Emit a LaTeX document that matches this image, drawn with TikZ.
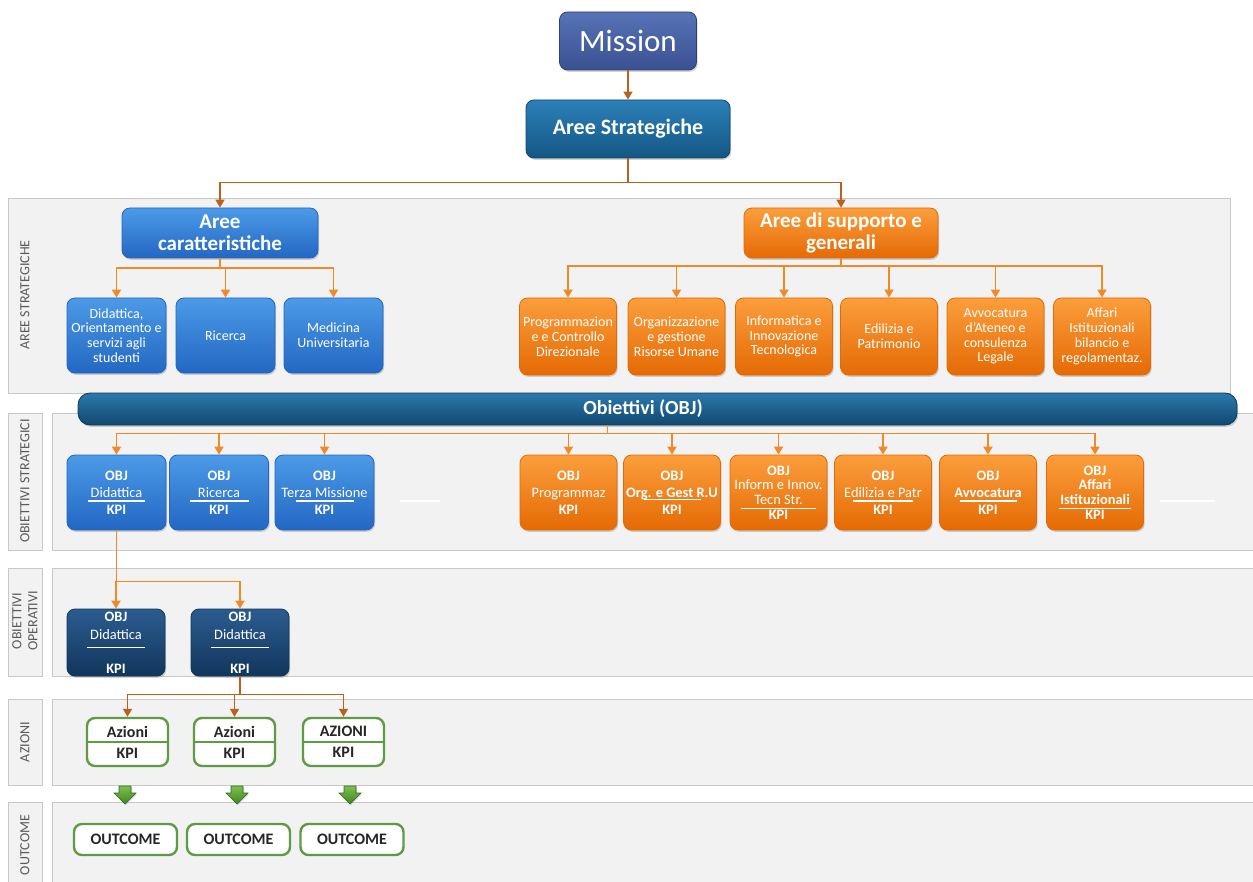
\documentclass[tikz,border=0pt]{standalone}
\usepackage{fontspec}
\setmainfont{Carlito}
\usetikzlibrary{arrows.meta,shadows}

\definecolor{missA}{HTML}{5673B6}
\definecolor{missB}{HTML}{3A5192}
\definecolor{stratA}{HTML}{2C80B8}
\definecolor{stratB}{HTML}{145784}
\definecolor{blueA}{HTML}{4C9AE8}
\definecolor{blueB}{HTML}{2367C2}
\definecolor{orgA}{HTML}{FB9E3C}
\definecolor{orgB}{HTML}{E56A04}
\definecolor{objA}{HTML}{2C79AC}
\definecolor{objB}{HTML}{104870}
\definecolor{navyA}{HTML}{2B5C8F}
\definecolor{navyB}{HTML}{12365C}
\definecolor{grnline}{HTML}{5E9B44}
\definecolor{grnA}{HTML}{7CC04E}
\definecolor{grnB}{HTML}{3F8424}
\definecolor{connorg}{HTML}{F08A28}
\definecolor{connbrn}{HTML}{B8621E}
\definecolor{bandfill}{HTML}{F2F2F2}
\definecolor{bandedge}{HTML}{C8C8C8}
\definecolor{labgray}{HTML}{5A5A5A}

% text with a white rule under it
\newcommand{\objsep}[3][-2.2pt]{\makebox[#2]{#3}\llap{\rule[#1]{#2}{0.6pt}}}

\tikzset{
  box/.style={rounded corners=4pt, text=white, align=center, inner sep=1pt,
    drop shadow={shadow xshift=0.6pt, shadow yshift=-0.9pt, opacity=0.35}},
  missionbox/.style={box, top color=missA, bottom color=missB, draw=missB!80!black,
    minimum width=68.5pt, minimum height=29pt, font=\fontsize{15.5}{18}\selectfont},
  stratbox/.style={box, top color=stratA, bottom color=stratB, draw=stratB!80!black,
    minimum width=102pt, minimum height=29pt, font=\bfseries\fontsize{11}{13}\selectfont},
  bluehead/.style={box, top color=blueA, bottom color=blueB, draw=blueB,
    minimum width=98pt, minimum height=25pt, font=\bfseries\fontsize{10.5}{11}\selectfont},
  orangehead/.style={box, top color=orgA, bottom color=orgB, draw=orgB,
    minimum width=97pt, minimum height=25pt, font=\bfseries\fontsize{10.5}{11}\selectfont},
  bluearea/.style={box, top color=blueA, bottom color=blueB, draw=blueB,
    minimum width=49.5pt, minimum height=37.5pt, font=\fontsize{7}{7.4}\selectfont},
  orangearea/.style={box, top color=orgA, bottom color=orgB, draw=orgB,
    minimum width=48.5pt, minimum height=38.5pt, font=\fontsize{7}{7.4}\selectfont},
  blueobj/.style={bluearea, font=\fontsize{7.2}{8.5}\selectfont},
  orangeobj/.style={orangearea, minimum height=37.5pt, font=\fontsize{7.2}{8.5}\selectfont},
  tight/.style={font=\fontsize{7.2}{7.4}\selectfont},
  objbar/.style={box, top color=objA, bottom color=objB, draw=objB!80!black,
    rounded corners=6pt, minimum width=579.5pt, minimum height=16pt},
  navyobj/.style={box, top color=navyA, bottom color=navyB, draw=navyB,
    minimum width=49pt, minimum height=33.5pt, font=\fontsize{7.2}{9}\selectfont},
  azbox/.style={draw=grnline, line width=1.2pt, fill=white, rounded corners=4pt,
    minimum width=40.5pt, minimum height=24pt, align=center, text=black!85,
    font=\bfseries\fontsize{8}{9}\selectfont},
  outbox/.style={azbox, minimum width=51.5pt, minimum height=15.5pt},
  greenarrow/.style={top color=grnA, bottom color=grnB, draw=grnB!80!black, line width=0.3pt,
    drop shadow={shadow xshift=0.5pt, shadow yshift=-0.6pt, opacity=0.3}},
  band/.style={fill=bandfill, draw=bandedge, line width=0.4pt},
  bandlabel/.style={rotate=90, text=labgray, font=\fontsize{7}{8}\selectfont, align=center},
  orgline/.style={draw=connorg, line width=0.9pt},
  orgarrow/.style={orgline, -{Triangle[width=4.5pt,length=4pt]}},
  brnline/.style={draw=connbrn, line width=0.7pt},
  brnarrow/.style={brnline, -{Triangle[width=4.5pt,length=4pt]}}
}

\begin{document}
\begin{tikzpicture}[x=0.5pt,y=-0.5pt]
\useasboundingbox (0,0) rectangle (1253,882);

% bands
\draw[band] (8,198) rectangle (1230,393);
\foreach \ya/\yb in {413/550,568/676,699/785,802/882} {
  \draw[band] (8,\ya) rectangle (42,\yb);
  \draw[band] (52,\ya) rectangle (1253,\yb);
}
\node[bandlabel] (labstrat) at (25,295) {AREE STRATEGICHE};
\node[bandlabel] (labobjs) at (25,481) {OBIETTIVI STRATEGICI};
\node[bandlabel] (labobjo) at (25,621) {OBIETTIVI\\OPERATIVI};
\node[bandlabel] (labaz) at (25,742) {AZIONI};
\node[bandlabel] (labout) at (25,845) {OUTCOME};

% top
\node[missionbox] (mission) at (628,41) {Mission};
\node[stratbox] (strat) at (628,129) {Aree Strategiche};
\node[bluehead] (carat) at (220,233) {Aree\\caratteristiche};
\node[orangehead] (supp) at (841,233) {Aree di supporto e\\generali};

\draw[brnarrow] (mission) -- (strat);
\draw[brnline] (strat.south) -- ++(0,24) coordinate (busA);
\draw[brnarrow] (busA) -| (carat.north);
\draw[brnarrow] (busA) -| (supp.north);

% aree
\foreach \x/\n/\t in {116.5/did/{Didattica,\\Orientamento e\\servizi agli\\studenti},
    225.5/ric/Ricerca, 333.5/med/{Medicina\\Universitaria}}
  \node[bluearea] (\n) at (\x,335.5) {\t};
\foreach \x/\n/\t in {568/prg/{Programmazion\\e e Controllo\\Direzionale},
    676.5/org/{Organizzazione\\e gestione\\Risorse Umane},
    784/inf/{Informatica e\\Innovazione\\Tecnologica},
    889/edi/{Edilizia e\\Patrimonio},
    995.5/avv/{Avvocatura\\d'Ateneo e\\consulenza\\Legale},
    1102/aff/{Affari\\Istituzionali\\bilancio e\\regolamentaz.}}
  \node[orangearea] (\n) at (\x,336.5) {\t};

\draw[orgline] (carat.south) -- ++(0,10) coordinate (busB);
\foreach \n in {did,ric,med}
  \draw[orgarrow] (busB) -| (\n.north);
\draw[orgline] (supp.south) -- ++(0,8) coordinate (busC);
\foreach \n in {prg,org,inf,edi,avv,aff}
  \draw[orgarrow] (busC) -| (\n.north);

% obiettivi strategici
\node[objbar] (obj) at (657.5,409) {};
\node[text=white, font=\bfseries\fontsize{10}{12}\selectfont] (objtxt) at (643,409) {Obiettivi (OBJ)};
\foreach \x/\n/\t in {116.5/ob1/{\textbf{OBJ}\\\objsep{28.5pt}{Didattica}\\\textbf{KPI}},
    219/ob2/{\textbf{OBJ}\\\objsep{29.5pt}{Ricerca}\\\textbf{KPI}},
    324.5/ob3/{\textbf{OBJ}\\\objsep{29pt}{Terza Missione}\\\textbf{KPI}}}
  \node[blueobj] (\n) at (\x,492.5) {\t};
\foreach \x/\n/\o/\t in {568.5/oo1//{\textbf{OBJ}\\Programmaz\\\textbf{KPI}},
    672/oo2//{\textbf{OBJ}\\\objsep[-1.6pt]{28.5pt}{\textbf{Org. e Gest R.U}}\\\textbf{KPI}},
    778.5/oo3/tight/{\textbf{OBJ}\\Inform e Innov.\\\objsep{37.5pt}{Tecn Str.}\\\textbf{KPI}},
    883/oo4//{\textbf{OBJ}\\\objsep{30pt}{Edilizia e Patr}\\\textbf{KPI}},
    988/oo5//{\textbf{OBJ}\\\objsep{28.5pt}{\textbf{Avvocatura}}\\\textbf{KPI}},
    1095/oo6/tight/{\textbf{OBJ}\\\textbf{Affari}\\\objsep{36pt}{\textbf{Istituzionali}}\\\textbf{KPI}}}
  \node[orangeobj,\o] (\n) at (\x,492.5) {\t};
\draw[white, line width=1pt] (400,501) -- (440,501);
\draw[white, line width=1pt] (1160,501) -- (1215,501);

\draw[orgline] ([xshift=-25pt]obj.south) -- ++(0,8) coordinate (busD);
\foreach \n in {ob1,ob2,ob3,oo1,oo2,oo3,oo4,oo5,oo6}
  \draw[orgarrow] (busD) -| (\n.north);

% obiettivi operativi
\node[navyobj] (nv1) at (116,642.5) {\textbf{OBJ}\\\objsep[-4.5pt]{29pt}{Didattica}\\[7pt]\textbf{KPI}};
\node[navyobj] (nv2) at (240,642.5) {\textbf{OBJ}\\\objsep[-4.5pt]{29pt}{Didattica}\\[7pt]\textbf{KPI}};
\draw[orgline] (ob1.south) -- ++(0,51) coordinate (busE);
\foreach \n in {nv1,nv2}
  \draw[orgarrow] (busE) -| (\n.north);

% azioni e outcome
\foreach \x/\n/\t in {127.5/az1/Azioni, 234.5/az2/Azioni, 343.5/az3/AZIONI} {
  \node[azbox] (\n) at (\x,742) {\t\\[1.5pt]KPI};
  \draw[draw=grnline, line width=1pt] (\n.west) -- (\n.east);
}
\draw[brnline] (nv2.south) -- ++(0,18) coordinate (busF);
\foreach \n in {az1,az2,az3}
  \draw[brnarrow] (busF) -| (\n.north);

\foreach \x in {125,237,350}
  \path[greenarrow] (\x-6,786) -- (\x+6,786) -- (\x+6,793) -- (\x+11,793)
    -- (\x,804) -- (\x-11,793) -- (\x-6,793) -- cycle;
\foreach \x/\n in {125.5/oc1, 238.5/oc2, 352/oc3}
  \node[outbox] (\n) at (\x,839.5) {OUTCOME};
\end{tikzpicture}
\end{document}
